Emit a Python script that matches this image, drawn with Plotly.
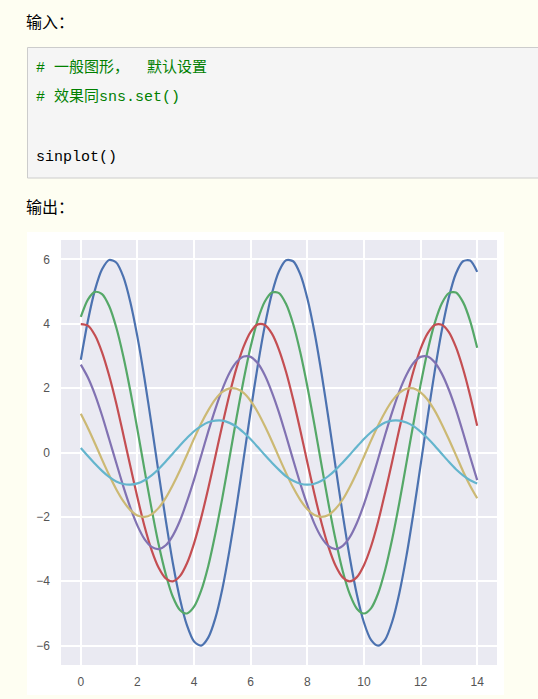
import plotly.graph_objects as go

# x positions (step 0.25 from 0 to 14)
x_vals = [0, 0.25, 0.5, 0.75, 1, 1.25, 1.5, 1.75, 2, 2.25, 2.5, 2.75, 3, 3.25, 3.5, 3.75,
          4, 4.25, 4.5, 4.75, 5, 5.25, 5.5, 5.75, 6, 6.25, 6.5, 6.75, 7, 7.25, 7.5, 7.75,
          8, 8.25, 8.5, 8.75, 9, 9.25, 9.5, 9.75, 10, 10.25, 10.5, 10.75, 11, 11.25, 11.5, 11.75,
          12, 12.25, 12.5, 12.75, 13, 13.25, 13.5, 13.75, 14]

blue = [2.88, 4.09, 5.05, 5.69, 5.98, 5.90, 5.46, 4.67, 3.59, 2.29, 0.85, -0.65, -2.10, -3.43, -4.54,
        -5.37, -5.87, -6.00, -5.75, -5.15, -4.23, -3.04, -1.68, -0.20, 1.29, 2.70, 3.94, 4.94, 5.63,
        5.97, 5.94, 5.54, 4.79, 3.75, 2.47, 1.04, -0.45, -1.92, -3.26, -4.41, -5.28, -5.82, -6.00,
        -5.81, -5.25, -4.37, -3.22, -1.87, -0.40, 1.10, 2.52, 3.79, 4.82, 5.56, 5.94, 5.96, 5.61]
green = [4.21, 4.75, 4.99, 4.92, 4.55, 3.89, 2.99, 1.91, 0.71, -0.54, -1.75, -2.86, -3.78, -4.48, -4.89,
         -5.00, -4.79, -4.29, -3.53, -2.53, -1.40, -0.17, 1.08, 2.25, 3.29, 4.12, 4.69, 4.97, 4.95,
         4.61, 3.99, 3.12, 2.06, 0.87, -0.38, -1.60, -2.72, -3.68, -4.40, -4.85, -5.00, -4.84, -4.38,
         -3.64, -2.68, -1.56, -0.33, 0.91, 2.10, 3.16, 4.02, 4.63, 4.95, 4.97, 4.67, 4.09, 3.25]
red = [3.99, 3.94, 3.64, 3.11, 2.39, 1.53, 0.56, -0.43, -1.40, -2.29, -3.03, -3.58, -3.91, -4.00, -3.84,
       -3.44, -2.82, -2.03, -1.12, -0.13, 0.86, 1.80, 2.63, 3.29, 3.75, 3.98, 3.96, 3.69, 3.19, 2.50,
       1.65, 0.70, -0.30, -1.28, -2.18, -2.94, -3.52, -3.88, -4.00, -3.87, -3.50, -2.92, -2.15, -1.24,
       -0.27, 0.73, 1.68, 2.53, 3.22, 3.70, 3.96, 3.97, 3.74, 3.27, 2.60, 1.77, 0.83]
purple = [2.73, 2.33, 1.80, 1.15, 0.42, -0.32, -1.05, -1.71, -2.27, -2.69, -2.93, -3.00, -2.88, -2.58,
          -2.12, -1.52, -0.84, -0.10, 0.65, 1.35, 1.97, 2.47, 2.81, 2.98, 2.97, 2.77, 2.40, 1.87, 1.24,
          0.52, -0.23, -0.96, -1.63, -2.21, -2.64, -2.91, -3.00, -2.90, -2.63, -2.19, -1.61, -0.93,
          -0.20, 0.55, 1.26, 1.90, 2.41, 2.78, 2.97, 2.98, 2.80, 2.45, 1.95, 1.33, 0.62, -0.13, -0.86]
yellow = [1.20, 0.76, 0.28, -0.22, -0.70, -1.14, -1.51, -1.79, -1.96, -2.00, -1.92, -1.72, -1.41, -1.01,
          -0.56, -0.07, 0.43, 0.90, 1.31, 1.65, 1.88, 1.99, 1.98, 1.85, 1.60, 1.25, 0.82, 0.35, -0.15,
          -0.64, -1.09, -1.47, -1.76, -1.94, -2.00, -1.94, -1.75, -1.46, -1.07, -0.62, -0.13, 0.37,
          0.84, 1.26, 1.61, 1.85, 1.98, 1.99, 1.87, 1.64, 1.30, 0.88, 0.41, -0.08, -0.58, -1.03, -1.42]
cyan = [0.14, -0.11, -0.35, -0.57, -0.76, -0.90, -0.98, -1.00, -0.96, -0.86, -0.71, -0.51, -0.28, -0.03,
        0.22, 0.45, 0.66, 0.82, 0.94, 0.99, 0.99, 0.92, 0.80, 0.62, 0.41, 0.17, -0.08, -0.32, -0.54,
        -0.74, -0.88, -0.97, -1.00, -0.97, -0.88, -0.73, -0.54, -0.31, -0.07, 0.18, 0.42, 0.63, 0.80,
        0.93, 0.99, 0.99, 0.93, 0.82, 0.65, 0.44, 0.21, -0.04, -0.29, -0.52, -0.71, -0.86, -0.96]

series = [blue, green, red, purple, yellow, cyan]
colors = ["#4C72B0", "#55A868", "#C44E52", "#8172B2", "#CCB974", "#64B5CD"]

x_ticks = [0, 2, 4, 6, 8, 10, 12, 14]
y_ticks = [-6, -4, -2, 0, 2, 4, 6]

W, H = 538, 699
def px(v): return v / W
def py(v): return 1 - v / H

fig = go.Figure()
for ys, c in zip(series, colors):
    fig.add_trace(go.Scatter(x=x_vals, y=ys, mode="lines",
                             line=dict(color=c, width=2.2, shape="spline", smoothing=0.8),
                             showlegend=False, hoverinfo="skip"))

# plot area in pixels
L, R, T, B = 61, 497, 240, 665
# white image frame in pixels
FL, FR, FT, FB = 27, 504, 232, 695

def rect(x0, x1, y0, y1, fill, line=None):
    return dict(type="rect", xref="paper", yref="paper", x0=px(x0), x1=px(x1), y0=py(y1), y1=py(y0),
                fillcolor=fill, line=line or dict(width=0), layer="below")

tick_font = dict(family="Liberation Sans, Arial", size=12, color="#555")

fig.update_layout(
    width=W, height=H,
    margin=dict(l=0, r=0, t=0, b=0),
    paper_bgcolor="#FEFEF2",
    plot_bgcolor="#EAEAF2",
    showlegend=False,
    xaxis=dict(domain=[px(L), px(R)], range=[-0.7, 14.7], tickvals=x_ticks,
               showgrid=True, gridcolor="white", gridwidth=1.5, zeroline=False,
               showline=False, ticks="", ticklabelstandoff=8, tickfont=tick_font),
    yaxis=dict(domain=[py(B), py(T)], range=[-6.6, 6.6], tickvals=y_ticks,
               showgrid=True, gridcolor="white", gridwidth=1.5, zeroline=False,
               showline=False, ticks="", ticklabelstandoff=10, tickfont=tick_font),
    shapes=[
        rect(FL, FR, FT, T, "white"),
        rect(FL, FR, B, FB, "white"),
        rect(FL, L, T, B, "white"),
        rect(R, FR, T, B, "white"),
        rect(27.5, 545, 47.5, 178, "#F5F5F5", dict(color="#CCCCCC", width=1)),
    ],
)

cjk = "Noto Sans CJK SC"
mono = "Liberation Mono, DejaVu Sans Mono, Noto Sans CJK SC"
ann = [
    dict(text="输入：", x=px(24), y=py(21), font=dict(family=cjk, size=16, color="#000")),
    dict(text="# 一般图形，  默认设置", x=px(33.5), y=py(68), font=dict(family=mono, size=15, color="#008000")),
    dict(text="# 效果同sns.set()", x=px(33.5), y=py(97), font=dict(family=mono, size=15, color="#008000")),
    dict(text="sinplot()", x=px(33.5), y=py(157), font=dict(family=mono, size=15, color="#000")),
    dict(text="输出：", x=px(24), y=py(206), font=dict(family=cjk, size=16, color="#000")),
]
for a in ann:
    fig.add_annotation(xref="paper", yref="paper", xanchor="left", yanchor="middle",
                       showarrow=False, **a)

fig.write_html("out.html", config={"displayModeBar": False},
               post_script="document.body.style.margin='0px';document.body.style.background='#FEFEF2';")
